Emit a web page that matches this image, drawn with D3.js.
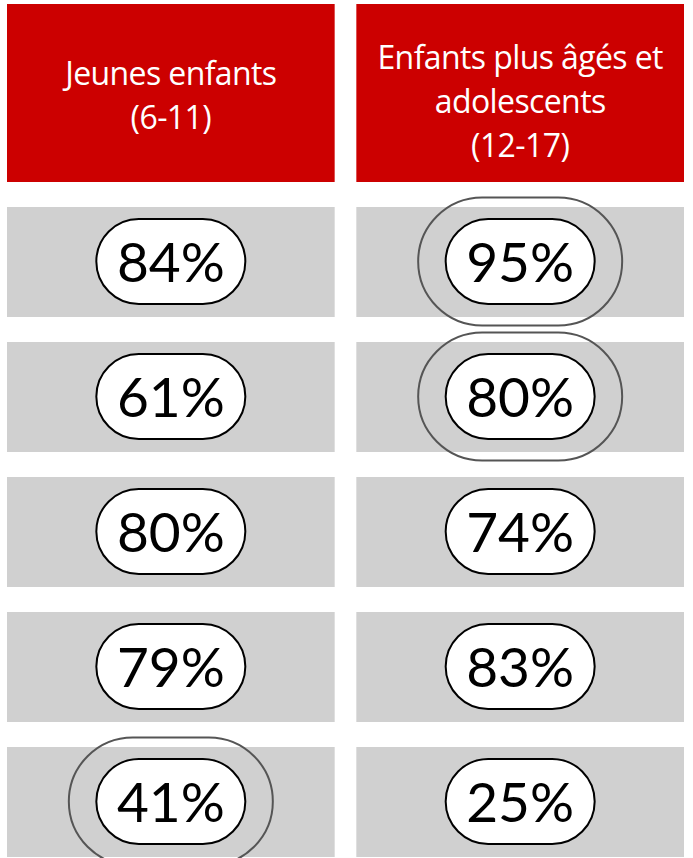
<!DOCTYPE html>
<html><head><meta charset="utf-8">
<script src="https://cdn.jsdelivr.net/npm/d3@7"></script>
<style>body{margin:0;background:#fff;}</style>
</head><body>
<svg id="c" width="693" height="858"></svg>
<script>
const groups = ["Jeunes enfants (6-11)", "Enfants plus âgés et adolescents (12-17)"];
const headerLines = [["Jeunes enfants", "(6-11)"], ["Enfants plus âgés et", "adolescents", "(12-17)"]];
const rows = [0, 1, 2, 3, 4];
const youngValues = [84, 61, 80, 79, 41];
const olderValues = [95, 80, 74, 83, 25];
const youngHighlight = [false, false, false, false, true];
const olderHighlight = [true, true, false, false, false];

const svg = d3.select("#c");
const x = d3.scaleBand().domain(groups).range([7, 684]).paddingInner(21 / 338.5);
const y = d3.scaleBand().domain(rows).range([207, 857]).paddingInner(25 / 135).paddingOuter(0);
const numFont = "Lato, sans-serif";
const headFont = "'Open Sans', Lato, sans-serif";

// headers
const firstBase = [85, 69];
groups.forEach((g, i) => {
  const gx = x(g), bw = x.bandwidth();
  svg.append("rect").attr("x", gx).attr("y", 4).attr("width", bw).attr("height", 178).attr("fill", "#cc0000");
  const lines = headerLines[i];
  const lh = 44;
  lines.forEach((l, j) => {
    svg.append("text").attr("x", gx + bw / 2).attr("y", firstBase[i] + j * lh)
      .attr("text-anchor", "middle").attr("fill", "#fff")
      .style("font-family", headFont).style("font-weight", 400).style("font-size", "32px")
      .style("letter-spacing", "-0.6px")
      .text(l);
  });
});

const cols = [
  {g: groups[0], vals: youngValues, hl: youngHighlight},
  {g: groups[1], vals: olderValues, hl: olderHighlight}
];
const pw = 149, ph = 85, ow = 204, oh = 128;
cols.forEach(c => {
  rows.forEach(r => {
    svg.append("rect").attr("x", x(c.g)).attr("y", y(r)).attr("width", x.bandwidth()).attr("height", y.bandwidth()).attr("fill", "#d0d0d0");
  });
});
cols.forEach(c => {
  rows.forEach(r => {
    const cx = x(c.g) + x.bandwidth() / 2;
    const cy = y(r) + y.bandwidth() / 2 - 0.5;
    if (c.hl[r]) {
      svg.append("rect").attr("x", cx - ow / 2).attr("y", cy - oh / 2).attr("width", ow).attr("height", oh)
        .attr("rx", oh / 2).attr("ry", oh / 2).attr("fill", "none").attr("stroke", "#555").attr("stroke-width", 2);
    }
    svg.append("rect").attr("x", cx - pw / 2).attr("y", cy - ph / 2).attr("width", pw).attr("height", ph)
      .attr("rx", ph / 2).attr("ry", ph / 2).attr("fill", "#fff").attr("stroke", "#000").attr("stroke-width", 2);
    svg.append("text").attr("x", cx).attr("y", cy + 20)
      .attr("text-anchor", "middle").attr("fill", "#000")
      .style("font-family", numFont).style("font-weight", 400).style("font-size", "55px")
      .text(c.vals[r] + "%");
  });
});
</script>
</body></html>
